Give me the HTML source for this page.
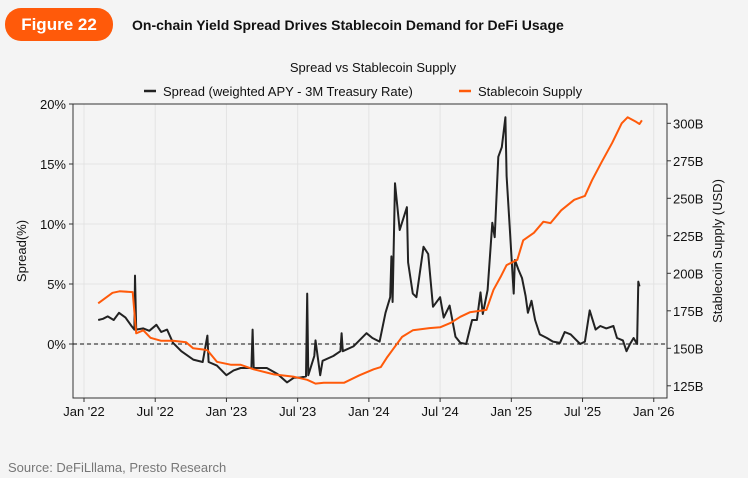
<!DOCTYPE html>
<html><head><meta charset="utf-8"><style>
body{margin:0;background:#f4f4f4;font-family:"Liberation Sans",sans-serif;}
#wrap{position:relative;width:748px;height:478px;background:#f4f4f4;overflow:hidden}
</style></head><body>
<div id="wrap">
<svg id="chart" width="748" height="478" style="position:absolute;left:0;top:0">
 <rect x="5" y="8" width="108" height="33" rx="16" fill="#ff5a0a"/>
 <text x="59" y="30" text-anchor="middle" fill="#fff" font-size="17" font-weight="bold">Figure 22</text>
 <text x="132" y="30" font-size="14" font-weight="bold" fill="#111">On-chain Yield Spread Drives Stablecoin Demand for DeFi Usage</text>
 <text x="373" y="72" text-anchor="middle" font-size="13" fill="#111">Spread vs Stablecoin Supply</text>
 <g>
  <line x1="144" y1="91" x2="156" y2="91" stroke="#222" stroke-width="2.5"/>
  <text x="163" y="96" font-size="13" fill="#111">Spread (weighted APY - 3M Treasury Rate)</text>
  <line x1="459" y1="91" x2="471" y2="91" stroke="#ff5a0a" stroke-width="2.5"/>
  <text x="478" y="96" font-size="13" fill="#111">Stablecoin Supply</text>
 </g>
 <g id="grid"></g>
 <g id="axes"></g>
 <g id="marks"></g>
 <text transform="translate(26,251) rotate(-90)" text-anchor="middle" font-size="13" fill="#111">Spread(%)</text>
 <text transform="translate(722,251) rotate(-90)" text-anchor="middle" font-size="13" fill="#111">Stablecoin Supply (USD)</text>
 <text x="8" y="472" font-size="13" fill="#777">Source: DeFiLllama, Presto Research</text>
</svg>
</div>
<script>
// months since Jan 2022
const spreadMonths=[1.2,1.6,2.0,2.5,2.95,3.5,4.0,4.25,4.3,4.4,5.0,5.5,6.1,6.5,7.0,7.5,8.2,9.2,10.0,10.4,10.5,11.2,12.0,12.6,13.2,14.1,14.2,14.3,15.4,16.3,17.1,17.7,18.2,18.7,18.8,18.9,19.4,19.5,19.9,20.1,21.0,21.6,21.7,21.8,22.7,23.8,24.3,24.9,25.4,25.8,25.9,26.0,26.2,26.6,27.2,27.3,27.7,28.0,28.6,29.0,29.4,30.0,30.3,30.8,31.3,31.7,32.2,32.7,33.1,33.4,33.6,34.0,34.4,34.6,34.9,35.2,35.5,35.6,35.9,36.2,36.3,36.6,36.9,37.2,37.4,37.7,38.0,38.4,39.0,39.5,40.1,40.5,41.0,41.4,41.8,42.2,42.6,43.1,43.5,44.0,44.6,44.9,45.4,45.7,46.0,46.3,46.6,46.7,46.8];
const spreadValues=[2.0,2.1,2.3,2.0,2.6,2.2,1.5,1.2,5.7,1.2,1.3,1.1,1.6,1.0,1.2,0.1,-0.6,-1.3,-1.5,0.7,-1.5,-1.8,-2.6,-2.2,-2.0,-2.0,1.2,-2.0,-2.0,-2.5,-3.2,-2.8,-2.8,-2.7,4.2,-2.6,-1.0,0.3,-2.6,-1.4,-1.0,-0.6,0.9,-0.6,-0.2,0.9,0.5,0.2,2.6,3.9,7.3,3.5,13.4,9.5,11.4,6.8,4.2,3.9,8.1,7.5,3.1,3.9,2.2,3.2,0.6,0.1,0.0,2.0,2.0,4.3,2.5,4.5,10.1,8.9,15.6,16.4,18.9,14.0,9.2,4.2,7.0,6.2,5.5,4.0,2.6,3.6,2.0,0.8,0.5,0.2,0.1,1.0,0.8,0.4,0.0,0.2,2.8,1.2,1.5,1.3,1.5,0.5,0.3,-0.6,0.0,0.5,0.0,5.2,4.8];
const supplyMonths=[1.2,2.4,3.0,4.1,4.4,5.0,5.6,6.5,7.5,8.6,9.2,10.2,10.4,11.2,12.4,13.2,14.3,16.0,17.7,18.8,19.5,20.2,21.9,23.2,24.4,25.0,25.5,26.0,26.8,27.7,29.1,30.0,30.9,31.7,32.5,33.9,34.5,35.1,35.6,36.5,37.0,37.9,38.7,39.3,40.2,41.3,42.2,42.8,43.6,44.5,45.3,45.8,46.5,46.8,47.0];
const supplyValues=[180,187,188,187.5,160,162,157,155,155,154,150,149,148.7,141,139,139,136,132.6,131,129,126.5,127,127,132,136,137.5,143.6,149,157.6,162,163.5,164,167,171,174,175.6,189,197.6,205.5,209,222,227,234.4,233.5,242,249,251.6,262,274,287,300,304,301,299.5,302];
const xTickMonths=[0,6,12,18,24,30,36,42,48];
const xTickLabels=["Jan '22","Jul '22","Jan '23","Jul '23","Jan '24","Jul '24","Jan '25","Jul '25","Jan '26"];
const leftTicks=[0,5,10,15,20];
const leftTickLabels=["0%","5%","10%","15%","20%"];
const rightTicks=[125,150,175,200,225,250,275,300];
const rightTickLabels=["125B","150B","175B","200B","225B","250B","275B","300B"];

const L=73,R=667,T=104,B=398;
const xs=m=>84+m*11.87;
const yl=v=>344-v*12;
const yr=v=>123.3+(300-v)*1.5;
const NS="http://www.w3.org/2000/svg";
function mk(tag,attrs,parent){const e=document.createElementNS(NS,tag);for(const k in attrs)e.setAttribute(k,attrs[k]);parent.appendChild(e);return e;}
const grid=document.getElementById('grid'),axes=document.getElementById('axes'),marks=document.getElementById('marks');

xTickMonths.forEach((m,i)=>{
 const g=mk('line',{x1:xs(m),x2:xs(m),y1:T,y2:B,stroke:'#e3e3e3','stroke-width':1},grid);
 
 
 const t=mk('line',{x1:xs(m),x2:xs(m),y1:B,y2:B+4,stroke:'#333'},axes);
 
 
 const tx=mk('text',{x:xs(m),y:416,'text-anchor':'middle','font-size':13,fill:'#111'},axes);
 tx.textContent=xTickLabels[i];
 
 
});
leftTicks.forEach((v,i)=>{
 const g=mk('line',{x1:L,x2:R,y1:yl(v),y2:yl(v),stroke:'#e3e3e3'},grid);
 
 
 const t=mk('line',{x1:L-4,x2:L,y1:yl(v),y2:yl(v),stroke:'#333'},axes);
 
 
 const tx=mk('text',{x:L-7,y:yl(v)+5,'text-anchor':'end','font-size':13,fill:'#111'},axes);
 tx.textContent=leftTickLabels[i];
 
 
});
rightTicks.forEach((v,i)=>{
 const t=mk('line',{x1:R,x2:R+4,y1:yr(v),y2:yr(v),stroke:'#333'},axes);
 
 
 const tx=mk('text',{x:R+6,y:yr(v)+5,'font-size':13,fill:'#111'},axes);
 tx.textContent=rightTickLabels[i];
 
 
});
const frame=mk('rect',{x:L,y:T,width:R-L,height:B-T,fill:'none',stroke:'#333','stroke-width':1},axes);


const zero=mk('line',{x1:L,x2:R,y1:yl(0),y2:yl(0),stroke:'#111','stroke-dasharray':'4,3','stroke-width':1},marks);


const sp=mk('polyline',{points:spreadMonths.map((m,i)=>xs(m).toFixed(1)+','+yl(spreadValues[i]).toFixed(1)).join(' '),fill:'none',stroke:'#222','stroke-width':2,'stroke-linejoin':'round'},marks);


const su=mk('polyline',{points:supplyMonths.map((m,i)=>xs(m).toFixed(1)+','+yr(supplyValues[i]).toFixed(1)).join(' '),fill:'none',stroke:'#ff5a0a','stroke-width':2,'stroke-linejoin':'round'},marks);


</script>
</body></html>
